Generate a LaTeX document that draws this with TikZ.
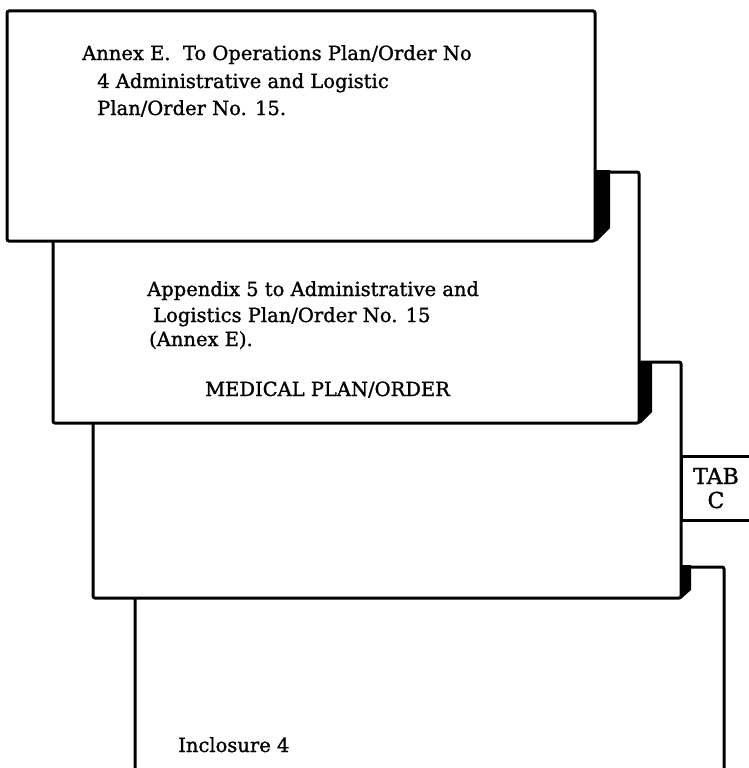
\documentclass[tikz,border=0pt]{standalone}
\usepackage{fontspec}
\setmainfont[FakeBold=1.2]{DejaVu Serif}
\begin{document}
\begin{tikzpicture}[x=1pt,y=-1pt,
  sheet/.style={draw=black,fill=white,line width=3pt,rounded corners=2pt},
  shade/.style={fill=black,draw=none},
  txt/.style={anchor=base west,inner sep=0pt,font=\fontsize{19.5}{22}\selectfont},
  tabtxt/.style={anchor=base,inner sep=0pt,font=\fontsize{22}{24}\selectfont}]
\useasboundingbox (0,0) rectangle (748,768);
% sheet 4 (open bottom)
\path[sheet] (135,790) -- (135,567) -- (724,567) -- (724,790);
% tab C
\path[sheet,rounded corners=0pt] (681,456) rectangle (770,520);
\node[tabtxt] (tab) at (716,484) {TAB};
\node[tabtxt] (tabc) at (716,508) {C};
% sheet 3
\path[sheet] (93,362) rectangle (681,598);
\path[shade] (680,565) -- (691,565) -- (691,590) -- (682,598) -- (680,598) -- cycle;
% sheet 2
\path[sheet] (53,172) rectangle (639,423);
\path[shade] (638,362) -- (652,362) -- (652,412) -- (641,423) -- (638,423) -- cycle;
% sheet 1
\path[sheet] (7,11) rectangle (595,241);
\path[shade] (594,170) -- (610,170) -- (610,228) -- (597,241) -- (594,241) -- cycle;
% texts
\node[txt] (a1) at (82,60) {Annex E.\ \ To Operations Plan/Order No};
\node[txt] (a2) at (97,88) {4 Administrative and Logistic};
\node[txt] (a3) at (97,115) {Plan/Order No. 15.};
\node[txt] (b1) at (147,296) {Appendix 5 to Administrative and};
\node[txt] (b2) at (153,322) {Logistics Plan/Order No. 15};
\node[txt] (b3) at (149,346) {(Annex E).};
\node[txt] (b4) at (205,396) {MEDICAL PLAN/ORDER};
\node[txt] (d1) at (178,752) {Inclosure 4};
\end{tikzpicture}
\end{document}
